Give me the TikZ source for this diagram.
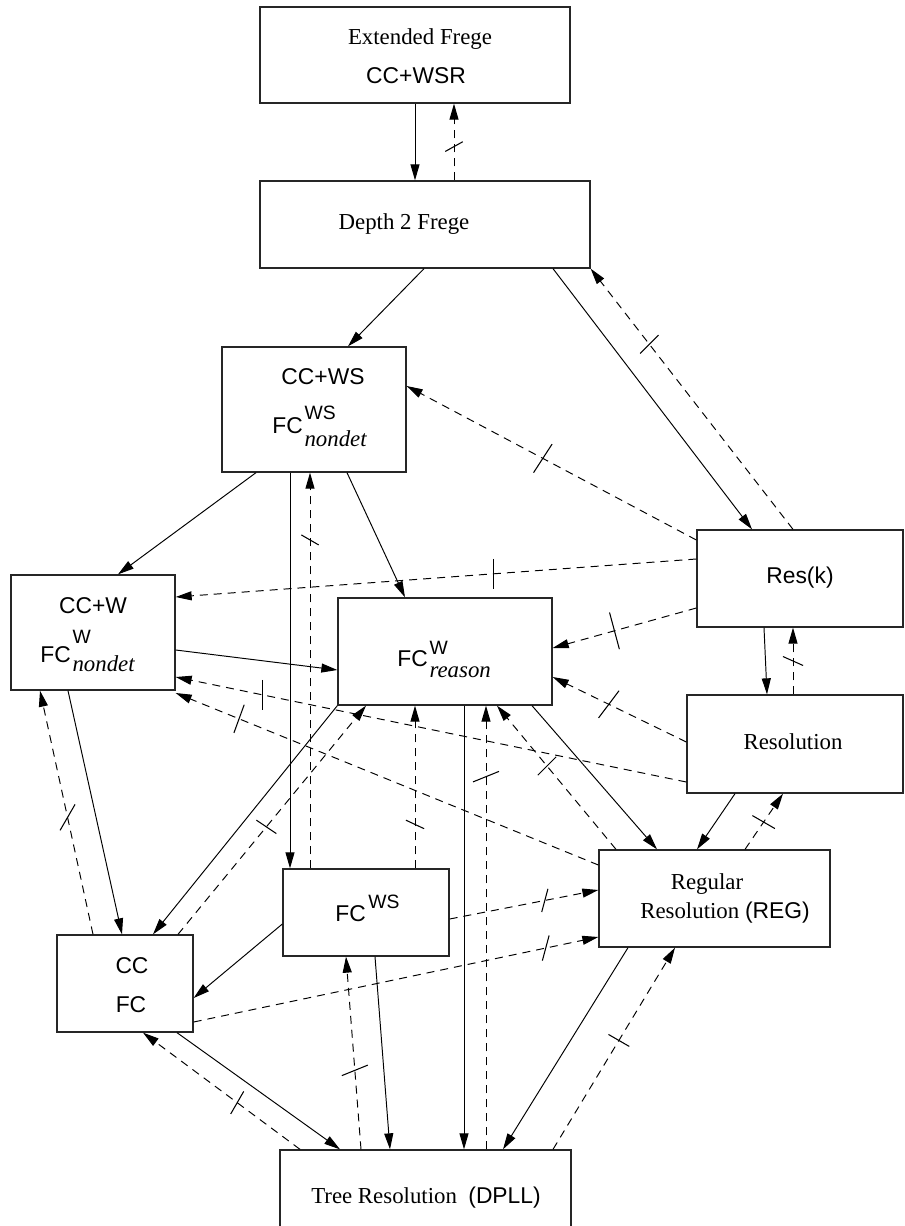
\documentclass[tikz,border=0pt]{standalone}
\usepackage{fontspec}
\setmainfont{Liberation Serif}
\newfontfamily\hv{Liberation Sans}
\usetikzlibrary{arrows.meta,calc,fit}
\newcommand\cutmark[3]{\draw[cutline] ($(#1)+(#2:#3)$) -- ($(#1)-(#2:#3)$);}
\newcommand\fcs[4]{{\hv FC}\kern1pt\rlap{\raisebox{#3}{\hv\fontsize{11}{12}\selectfont #1}}\raisebox{-#4}{\itshape #2}}
\begin{document}
\begin{tikzpicture}[x=0.02cm,y=-0.02cm,
  box/.style={draw=black!85, line width=0.75pt, inner sep=0pt},
  sl/.style={line width=0.55pt, -{Triangle[length=3.2mm,width=1.8mm]}},
  dl/.style={sl, dash pattern=on 1.6mm off 1.2mm},
  cutline/.style={line width=0.6pt, solid},
  txt/.style={inner sep=0pt, font=\fontsize{13}{15}\selectfont, anchor=base}]
\useasboundingbox (0,0) rectangle (904,1226);
\clip (0,0) rectangle (904,1226);
% boxes
\node[box, fit={(260,7) (570,103)}] (ef) {};
\node[box, fit={(260,181) (590,268)}] (d2f) {};
\node[box, fit={(222,347) (406,472)}] (ccws) {};
\node[box, fit={(11,575) (175,690)}] (ccw) {};
\node[box, fit={(338,598) (552,705)}] (fcr) {};
\node[box, fit={(697,530) (903,627)}] (resk) {};
\node[box, fit={(687,695) (903,793)}] (resol) {};
\node[box, fit={(599,850) (830,947)}] (reg) {};
\node[box, fit={(283,869) (449,956)}] (fcws) {};
\node[box, fit={(57,935) (193,1032)}] (cc) {};
\node[box, fit={(280,1150) (571,1245)}] (tree) {};
% texts
\node[txt] (t1) at (420,45) {Extended Frege};
\node[txt] (t2) at (416,84) {\hv CC+WSR};
\node[txt] (t3) at (404,230) {Depth 2 Frege};
\node[txt] (t4) at (323,384) {\hv CC+WS};
\node[txt,anchor=base west] (t5) at (272,433) {\fcs{WS}{nondet}{0.28cm}{0.28cm}};
\node[txt] (t6) at (93,613) {\hv CC+W};
\node[txt,anchor=base west] (t7) at (40,662) {\fcs{W}{nondet}{0.38cm}{0.18cm}};
\node[txt,anchor=base west] (t8) at (397,666) {\fcs{W}{reason}{0.24cm}{0.22cm}};
\node[txt] (t9) at (800,583) {\hv Res(k)};
\node[txt] (t10) at (793,749) {Resolution};
\node[txt] (t11) at (707,889) {Regular};
\node[txt] (t12) at (725,918) {Resolution {\hv(REG)}};
\node[txt,anchor=base west] (t13) at (335,921) {{\hv FC}\kern1.5pt\raisebox{0.26cm}{\hv\fontsize{11}{12}\selectfont WS}};
\node[txt] (t14) at (132,973) {\hv CC};
\node[txt] (t15) at (131,1012) {\hv FC};
\node[txt] (t16) at (426,1203) {Tree Resolution\ \ {\hv(DPLL)}};
% solid arrows
\draw[sl] (ef.south -| 415,0) -- (d2f.north -| 415,0);
\draw[sl] (d2f.south -| 424,0) -- (ccws.north -| 348,0);
\draw[sl] (d2f.south -| 553,0) -- (resk.north -| 752,0);
\draw[sl] (ccws.south -| 256,0) -- (ccw.north -| 118,0);
\draw[sl] (ccws.south -| 290,0) -- (fcws.north -| 290,0);
\draw[sl] (ccws.south -| 347,0) -- (fcr.north -| 405,0);
\draw[sl] (ccw.east |- 0,650) -- (fcr.west |- 0,670);
\draw[sl] (fcr.south west) -- (cc.north -| 153,0);
\draw[sl] (fcr.south -| 464,0) -- (tree.north -| 464,0);
\draw[sl] (fcr.south -| 532,0) -- (reg.north -| 657,0);
\draw[sl] (resol.south -| 735,0) -- (reg.north -| 697,0);
\draw[sl] (resk.south -| 764,0) -- (resol.north -| 767,0);
\draw[sl] (fcws.west |- 0,924) -- (cc.east |- 0,998);
\draw[sl] (cc.south -| 177,0) -- (tree.north -| 340,0);
\draw[sl] (fcws.south -| 375,0) -- (tree.north -| 390,0);
\draw[sl] (reg.south -| 628,0) -- (tree.north -| 503,0);
\draw[sl] (ccw.south -| 68,0) -- (cc.north -| 122,0);
% dashed arrows
\draw[dl] (d2f.north -| 454,0) -- coordinate[pos=.44] (c1) (ef.south -| 454,0);
\draw[dl] (resk.north -| 793,0) -- coordinate[pos=.71] (c2) (d2f.south east);
\draw[dl] (resk.west |- 0,540) -- coordinate[pos=.53] (c3) (ccws.east |- 0,386);
\draw[dl] (fcws.north -| 310,0) -- coordinate[pos=.83] (c4) (ccws.south -| 310,0);
\draw[dl] (resk.west |- 0,559) -- coordinate[pos=.39] (c5) (ccw.east |- 0,597);
\draw[dl] (resk.west |- 0,608) -- coordinate[pos=.57] (c6) (fcr.east |- 0,648);
\draw[dl] (resol.west |- 0,742) -- coordinate[pos=.58] (c7) (fcr.east |- 0,677);
\draw[dl] (resol.west |- 0,782) -- coordinate[pos=.83] (c8) (ccw.east |- 0,677);
\draw[dl] (reg.west |- 0,865) -- coordinate[pos=.85] (c9) (ccw.east |- 0,693);
\draw[dl] (cc.north -| 178,0) -- coordinate[pos=.47] (c10) (fcr.south -| 366,0);
\draw[dl] (fcws.north -| 415,0) -- coordinate[pos=.27] (c11) (fcr.south -| 415,0);
\draw[dl] (tree.north -| 486,0) -- coordinate[pos=.84] (c12) (fcr.south -| 486,0);
\draw[dl] (reg.north -| 616,0) -- coordinate[pos=.58] (c13) (fcr.south -| 497,0);
\draw[dl] (reg.north -| 745,0) -- coordinate[pos=.49] (c14) (resol.south -| 783,0);
\draw[dl] (resol.north -| 793,0) -- coordinate[pos=.5] (c15) (resk.south -| 793,0);
\draw[dl] (fcws.east |- 0,919) -- coordinate[pos=.64] (c16) (reg.west |- 0,890);
\draw[dl] (cc.east |- 0,1022) -- coordinate[pos=.87] (c17) (reg.west |- 0,937);
\draw[dl] (tree.north -| 300,0) -- coordinate[pos=.40] (c18) (cc.south -| 143,0);
\draw[dl] (tree.north -| 361,0) -- coordinate[pos=.41] (c19) (fcws.south -| 346,0);
\draw[dl] (tree.north -| 553,0) -- coordinate[pos=.54] (c20) (reg.south -| 675,0);
\draw[dl] (cc.north -| 93,0) -- coordinate[pos=.48] (c21) (ccw.south -| 40,0);
% slash marks
\cutmark{c1}{29}{2mm}
\cutmark{c2}{45}{2.6mm}
\cutmark{c3}{57}{3.4mm}
\cutmark{c4}{-30}{2mm}
\cutmark{c5}{90}{3mm}
\cutmark{c6}{-75}{3.8mm}
\cutmark{c7}{53}{3.4mm}
\cutmark{c8}{90}{3mm}
\cutmark{c9}{70}{3mm}
\cutmark{c10}{-34}{2.4mm}
\cutmark{c11}{-25}{2mm}
\cutmark{c12}{22}{2.8mm}
\cutmark{c13}{45}{2.6mm}
\cutmark{c14}{-30}{2.6mm}
\cutmark{c15}{-24}{2.2mm}
\cutmark{c16}{75}{2.4mm}
\cutmark{c17}{75}{2.6mm}
\cutmark{c18}{60}{2.6mm}
\cutmark{c19}{22}{2.8mm}
\cutmark{c20}{-30}{2.4mm}
\cutmark{c21}{60}{3mm}
\end{tikzpicture}
\end{document}
